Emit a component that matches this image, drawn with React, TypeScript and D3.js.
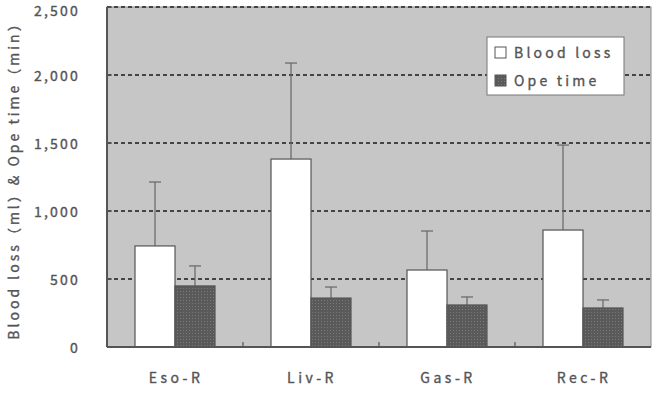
import React from "react";
import * as d3 from "d3";

const categories = ["Eso-R", "Liv-R", "Gas-R", "Rec-R"];
const bloodLoss = [743, 1382, 566, 860];
const bloodLossErr = [470, 706, 287, 625];
const opeTime = [449, 360, 309, 287];
const opeTimeErr = [147, 81, 59, 59];
const yTicks = [0, 500, 1000, 1500, 2000, 2500];

const W = 659;
const H = 399;
const m = { left: 107, right: 8, top: 7, bottom: 52 };
const font = "'Noto Sans CJK JP', 'DejaVu Sans', sans-serif";
const txt = "#555";

// shared text look: gothic, wide spacing, a little heavier than regular
const tStyle = {
  fontFamily: font,
  fontSize: 14,
  fill: txt,
  stroke: txt,
  strokeWidth: 0.35,
};

const App = () => {
  const x = d3
    .scaleBand()
    .domain(categories)
    .range([m.left, W - m.right]);
  const y = d3
    .scaleLinear()
    .domain([0, 2500])
    .range([H - m.bottom, m.top]);
  const barW = 40;
  const fmt = d3.format(",");

  const series = [
    { vals: bloodLoss, errs: bloodLossErr, fill: "#fff", off: -barW },
    { vals: opeTime, errs: opeTimeErr, fill: "url(#dots)", off: 0 },
  ];

  return (
    <svg width={W} height={H} style={{ position: "absolute", left: 0, top: 0 }}>
      <defs>
        <pattern id="dots" width="3" height="3" patternUnits="userSpaceOnUse">
          <rect width="3" height="3" fill="#5a5a5a" />
          <rect width="1" height="1" fill="#7a7a7a" />
        </pattern>
      </defs>
      <rect x={0} y={0} width={W} height={H} fill="#fff" />
      <rect
        x={m.left}
        y={m.top}
        width={W - m.left - m.right}
        height={H - m.top - m.bottom}
        fill="#c6c6c6"
        stroke="#8a8a8a"
        strokeWidth={1}
      />
      {yTicks.slice(1).map((t) => (
        <line
          key={t}
          x1={m.left}
          x2={W - m.right}
          y1={y(t)}
          y2={y(t)}
          stroke="#444"
          strokeWidth={2}
          strokeDasharray="4 3"
        />
      ))}
      {series.map((s, si) =>
        categories.map((c, i) => {
          const cx = x(c)! + x.bandwidth() / 2 + s.off;
          const top = y(s.vals[i]);
          const errTop = y(s.vals[i] + s.errs[i]);
          return (
            <g key={`${si}-${c}`}>
              <line x1={cx + barW / 2} x2={cx + barW / 2} y1={top} y2={errTop} stroke="#666" strokeWidth={1.2} />
              <line x1={cx + barW / 2 - 6} x2={cx + barW / 2 + 6} y1={errTop} y2={errTop} stroke="#666" strokeWidth={1.2} />
              <rect
                x={cx}
                y={top}
                width={barW}
                height={y(0) - top}
                fill={s.fill}
                stroke="#555"
                strokeWidth={1.2}
              />
            </g>
          );
        })
      )}
      <line x1={m.left} x2={W - m.right} y1={y(0)} y2={y(0)} stroke="#555" strokeWidth={2} />
      <line x1={m.left} x2={m.left} y1={m.top} y2={y(0)} stroke="#555" strokeWidth={2} />
      {categories.slice(1).map((c) => (
        <line key={c} x1={x(c)!} x2={x(c)!} y1={y(0)} y2={y(0) - 5} stroke="#555" strokeWidth={1.2} />
      ))}
      {yTicks.map((t) => (
        <line key={t} x1={m.left} x2={m.left + 5} y1={y(t)} y2={y(t)} stroke="#555" strokeWidth={1.2} />
      ))}
      {categories.map((c) => (
        <text
          key={c}
          {...tStyle}
          x={x(c)! + x.bandwidth() / 2 + 1}
          y={383}
          textAnchor="middle"
          letterSpacing={3.5}
        >
          {c}
        </text>
      ))}
      {yTicks.map((t) => (
        <text
          key={t}
          {...tStyle}
          x={80}
          y={Math.max(y(t) + 2, 12)}
          dominantBaseline="middle"
          textAnchor="end"
          letterSpacing={2.2}
        >
          {fmt(t)}
        </text>
      ))}
      <text
        {...tStyle}
        transform={`translate(19,${(m.top + y(0)) / 2}) rotate(-90)`}
        textAnchor="middle"
        letterSpacing={3}
      >
        Blood loss（ml）&amp; Ope time（min）
      </text>
      <rect x={487} y={37} width={137} height={58} fill="#fff" stroke="#777" strokeWidth={1} />
      <rect x={495} y={47} width={11} height={11} fill="#fff" stroke="#555" strokeWidth={1} />
      <rect x={495} y={75} width={11} height={11} fill="url(#dots)" stroke="#555" strokeWidth={1} />
      <text {...tStyle} x={514} y={58} letterSpacing={3.2}>
        Blood loss
      </text>
      <text {...tStyle} x={514} y={86} letterSpacing={3.2}>
        Ope time
      </text>
    </svg>
  );
};

export default App;
